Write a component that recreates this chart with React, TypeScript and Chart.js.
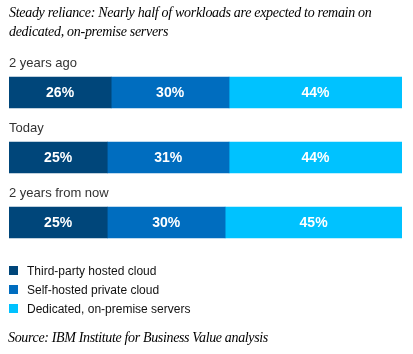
import React, { useEffect, useRef } from "react";
import { Chart, registerables } from "chart.js";

Chart.register(...registerables);

const titleText = "Steady reliance: Nearly half of workloads are expected to remain on dedicated, on-premise servers";
const sourceText = "Source: IBM Institute for Business Value analysis";
const categories = ["2 years ago", "Today", "2 years from now"];
const seriesNames = ["Third-party hosted cloud", "Self-hosted private cloud", "Dedicated, on-premise servers"];
const thirdParty = [26, 25, 25];
const selfHosted = [30, 31, 30];
const dedicated = [44, 44, 45];
const seriesColors = ["#00467a", "#006dbf", "#00c2ff"];

const labelsPlugin = {
  id: "labelsPlugin",
  afterDatasetsDraw(chart: any) {
    const ctx = chart.ctx;
    ctx.save();
    // data labels
    ctx.fillStyle = "#ffffff";
    ctx.font = "bold 14px 'Liberation Sans', Arial, sans-serif";
    ctx.textAlign = "center";
    ctx.textBaseline = "middle";
    chart.data.datasets.forEach((ds: any, di: number) => {
      const meta = chart.getDatasetMeta(di);
      meta.data.forEach((el: any, i: number) => {
        const cx = (el.x + el.base) / 2;
        ctx.fillText(ds.data[i] + "%", cx, el.y + 1);
      });
    });
    // category labels above bars
    ctx.fillStyle = "#333333";
    ctx.font = "13px 'Liberation Sans', Arial, sans-serif";
    ctx.textAlign = "left";
    ctx.textBaseline = "alphabetic";
    const meta0 = chart.getDatasetMeta(0);
    categories.forEach((c, i) => {
      const el: any = meta0.data[i];
      const top = el.y - el.height / 2;
      ctx.fillText(c, chart.chartArea.left, top - 10);
    });
    ctx.restore();
  },
};

export default function App() {
  const ref = useRef<HTMLCanvasElement>(null);
  useEffect(() => {
    document.body.style.margin = "0";
    const chart = new Chart(ref.current!, {
      type: "bar",
      data: {
        labels: categories,
        datasets: [thirdParty, selfHosted, dedicated].map((d, i) => ({
          label: seriesNames[i],
          data: d,
          backgroundColor: seriesColors[i],
          borderWidth: 0,
          barThickness: 31,
        })),
      },
      options: {
        indexAxis: "y",
        animation: false,
        responsive: false,
        maintainAspectRatio: false,
        layout: { padding: { left: 9, right: 11, top: 60, bottom: 99 } },
        scales: {
          x: { stacked: true, min: 0, max: 100, display: false },
          y: { stacked: true, display: false },
        },
        plugins: { legend: { display: false }, tooltip: { enabled: false }, title: { display: false } },
      },
      plugins: [labelsPlugin],
    });
    return () => chart.destroy();
  }, []);

  return (
    <div style={{ position: "relative", width: 413, height: 354, background: "#fff", overflow: "hidden" }}>
      <canvas ref={ref} width={413} height={354} style={{ position: "absolute", left: 0, top: 0 }} />
      <div
        style={{
          position: "absolute",
          left: 9,
          top: 4,
          width: 400,
          fontFamily: "'Liberation Serif', 'Times New Roman', serif",
          fontStyle: "italic",
          fontSize: 14,
          letterSpacing: "-0.3px",
          lineHeight: "18.5px",
          color: "#000",
        }}
      >
        {titleText}
      </div>
      <div style={{ position: "absolute", left: 9, top: 261, fontFamily: "'Liberation Sans', Arial, sans-serif", fontSize: 12, color: "#111" }}>
        {seriesNames.map((n, i) => (
          <div key={n} style={{ display: "flex", alignItems: "center", height: 19 }}>
            <span style={{ display: "inline-block", width: 9, height: 9, background: seriesColors[i], marginRight: 9 }} />
            <span>{n}</span>
          </div>
        ))}
      </div>
      <div
        style={{
          position: "absolute",
          left: 8,
          top: 330,
          fontFamily: "'Liberation Serif', 'Times New Roman', serif",
          fontStyle: "italic",
          fontSize: 14,
          letterSpacing: "-0.35px",
          color: "#000",
          whiteSpace: "nowrap",
        }}
      >
        {sourceText}
      </div>
    </div>
  );
}
